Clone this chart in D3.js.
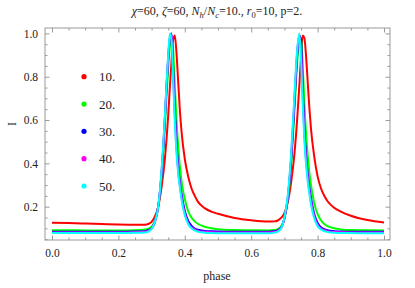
<!DOCTYPE html>
<html>
<head>
<meta charset="utf-8">
<script src="https://cdn.jsdelivr.net/npm/d3@7"></script>
<style>
  body { margin: 0; background: #fff; }
  svg text { font-family: "Liberation Serif", "DejaVu Serif", serif; fill: #222; }
</style>
</head>
<body>
<svg id="chart" width="415" height="288"></svg>
<script>
// phase grid shared by all series
var phase = [0, 0.05, 0.1, 0.15, 0.2, 0.25, 0.28, 0.29, 0.30, 0.31, 0.32, 0.33, 0.34, 0.345, 0.35, 0.355, 0.36, 0.365, 0.37, 0.375, 0.38, 0.385, 0.39, 0.40, 0.41, 0.42, 0.43, 0.44, 0.46, 0.48, 0.50, 0.55, 0.60, 0.65, 0.67, 0.68, 0.69, 0.70, 0.71, 0.72, 0.73, 0.735, 0.74, 0.745, 0.75, 0.755, 0.76, 0.765, 0.77, 0.775, 0.78, 0.79, 0.80, 0.81, 0.82, 0.83, 0.85, 0.87, 0.90, 0.95, 1.0];

var i10 = [0.126, 0.124, 0.122, 0.12, 0.118, 0.117, 0.117, 0.12, 0.13, 0.155, 0.20, 0.29, 0.42, 0.51, 0.62, 0.75, 0.87, 0.97, 0.99, 0.91, 0.78, 0.65, 0.55, 0.42, 0.34, 0.285, 0.25, 0.222, 0.193, 0.177, 0.167, 0.148, 0.137, 0.131, 0.132, 0.136, 0.148, 0.17, 0.22, 0.31, 0.44, 0.53, 0.64, 0.76, 0.89, 0.99, 0.98, 0.90, 0.78, 0.66, 0.56, 0.43, 0.34, 0.285, 0.25, 0.225, 0.195, 0.177, 0.158, 0.138, 0.127];

var i20 = [0.091, 0.091, 0.09, 0.09, 0.09, 0.091, 0.094, 0.098, 0.108, 0.135, 0.20, 0.34, 0.57, 0.71, 0.84, 0.94, 0.98, 0.92, 0.76, 0.60, 0.48, 0.39, 0.32, 0.235, 0.18, 0.15, 0.132, 0.12, 0.107, 0.100, 0.096, 0.092, 0.091, 0.09, 0.092, 0.096, 0.108, 0.145, 0.23, 0.39, 0.64, 0.78, 0.90, 0.97, 0.98, 0.86, 0.68, 0.54, 0.44, 0.36, 0.30, 0.215, 0.165, 0.137, 0.12, 0.11, 0.10, 0.095, 0.092, 0.091, 0.09];

var i30 = [0.084, 0.084, 0.084, 0.084, 0.084, 0.085, 0.087, 0.091, 0.10, 0.13, 0.20, 0.35, 0.60, 0.75, 0.88, 0.97, 1.0, 0.84, 0.65, 0.50, 0.39, 0.315, 0.26, 0.18, 0.135, 0.112, 0.099, 0.093, 0.088, 0.086, 0.085, 0.084, 0.084, 0.084, 0.086, 0.091, 0.103, 0.145, 0.235, 0.41, 0.67, 0.81, 0.93, 0.99, 0.97, 0.76, 0.57, 0.44, 0.355, 0.29, 0.24, 0.165, 0.125, 0.105, 0.096, 0.091, 0.087, 0.085, 0.084, 0.084, 0.084];

var i40 = [0.081, 0.081, 0.081, 0.081, 0.081, 0.082, 0.084, 0.088, 0.099, 0.13, 0.20, 0.36, 0.61, 0.76, 0.89, 0.98, 1.0, 0.81, 0.62, 0.47, 0.37, 0.30, 0.245, 0.17, 0.125, 0.105, 0.094, 0.088, 0.084, 0.082, 0.081, 0.081, 0.081, 0.081, 0.083, 0.088, 0.10, 0.145, 0.24, 0.42, 0.69, 0.83, 0.94, 0.99, 0.93, 0.72, 0.54, 0.42, 0.34, 0.275, 0.225, 0.155, 0.117, 0.10, 0.091, 0.087, 0.083, 0.082, 0.081, 0.081, 0.081];

var i50 = [0.078, 0.078, 0.078, 0.078, 0.078, 0.079, 0.081, 0.085, 0.097, 0.13, 0.20, 0.37, 0.62, 0.77, 0.90, 1.0, 0.97, 0.78, 0.59, 0.45, 0.355, 0.29, 0.235, 0.16, 0.12, 0.10, 0.09, 0.084, 0.080, 0.078, 0.077, 0.077, 0.077, 0.077, 0.08, 0.085, 0.10, 0.15, 0.25, 0.44, 0.71, 0.85, 0.95, 1.0, 0.88, 0.68, 0.51, 0.40, 0.32, 0.26, 0.21, 0.145, 0.11, 0.095, 0.087, 0.083, 0.079, 0.078, 0.078, 0.077, 0.077];

var seriesNames = ["10.", "20.", "30.", "40.", "50."];
var seriesValues = [i10, i20, i30, i40, i50];
var colors = ["#ff0000", "#00ff00", "#0000ff", "#ff00ff", "#00ffff"];

var xTicks = [0, 0.2, 0.4, 0.6, 0.8, 1.0];
var yTicks = [0.2, 0.4, 0.6, 0.8, 1.0];

var svg = d3.select("#chart");
var frameL = 45, frameR = 390, frameT = 28, frameB = 240;

var x = d3.scaleLinear().domain([-0.021, 1.018]).range([frameL, frameR]);
var y = d3.scaleLinear().domain([0.046, 1.025]).range([frameB, frameT]);

var frameColor = "#999";

// minor ticks
var xMinor = d3.range(0, 1.0001, 0.05).filter(function(v) { return Math.round(v * 100) % 20 != 0; });
var yMinor = d3.range(0.05, 1.0001, 0.05).filter(function(v) { return Math.round(v * 100) % 20 != 0; });

function styleAxis(g) {
    g.select(".domain").remove();
    g.selectAll(".tick line").attr("stroke", frameColor);
    g.selectAll(".tick text").attr("fill", "#222").style("font-size", "11.5px")
        .style("font-family", "'Liberation Serif', serif");
}

// bottom
svg.append("g").attr("transform", "translate(0," + frameB + ")")
    .call(d3.axisBottom(x).tickValues(xTicks).tickSize(-4.5).tickPadding(9).tickFormat(d3.format(".1f")))
    .call(styleAxis);
svg.append("g").attr("transform", "translate(0," + frameB + ")")
    .call(d3.axisBottom(x).tickValues(xMinor).tickSize(-2.5).tickFormat(""))
    .call(styleAxis);
// top
svg.append("g").attr("transform", "translate(0," + frameT + ")")
    .call(d3.axisTop(x).tickValues(xTicks).tickSize(-4.5).tickFormat(""))
    .call(styleAxis);
svg.append("g").attr("transform", "translate(0," + frameT + ")")
    .call(d3.axisTop(x).tickValues(xMinor).tickSize(-2.5).tickFormat(""))
    .call(styleAxis);
// left
svg.append("g").attr("transform", "translate(" + frameL + ",0)")
    .call(d3.axisLeft(y).tickValues(yTicks).tickSize(-4.5).tickPadding(7).tickFormat(d3.format(".1f")))
    .call(styleAxis);
svg.append("g").attr("transform", "translate(" + frameL + ",0)")
    .call(d3.axisLeft(y).tickValues(yMinor).tickSize(-2.5).tickFormat(""))
    .call(styleAxis);
// right
svg.append("g").attr("transform", "translate(" + frameR + ",0)")
    .call(d3.axisRight(y).tickValues(yTicks).tickSize(-4.5).tickFormat(""))
    .call(styleAxis);
svg.append("g").attr("transform", "translate(" + frameR + ",0)")
    .call(d3.axisRight(y).tickValues(yMinor).tickSize(-2.5).tickFormat(""))
    .call(styleAxis);

svg.append("rect")
    .attr("x", frameL).attr("y", frameT)
    .attr("width", frameR - frameL).attr("height", frameB - frameT)
    .attr("fill", "none").attr("stroke", frameColor).attr("stroke-width", 1);

// curves
var line = d3.line()
    .x(function(d) { return x(d[0]); })
    .y(function(d) { return y(d[1]); })
    .curve(d3.curveMonotoneX);

seriesValues.forEach(function(vals, k) {
    var pts = phase.map(function(p, i) { return [p, vals[i]]; });
    svg.append("path")
        .attr("d", line(pts))
        .attr("fill", "none")
        .attr("stroke", colors[k])
        .attr("stroke-width", 2)
        .attr("stroke-linejoin", "round");
});

// legend
var legendY = d3.scaleLinear().domain([0, 4]).range([76.7, 186]);
seriesNames.forEach(function(name, k) {
    svg.append("circle")
        .attr("cx", 84).attr("cy", legendY(k)).attr("r", 2.6)
        .attr("fill", colors[k]);
    svg.append("text")
        .attr("x", 99).attr("y", legendY(k) + 4.5)
        .style("font-size", "13px")
        .text(name);
});

// title
var title = svg.append("text")
    .attr("x", 217).attr("y", 15)
    .attr("text-anchor", "middle")
    .style("font-size", "12px");
title.append("tspan").style("font-style", "italic").text("\u03c7");
title.append("tspan").text("=60, ");
title.append("tspan").style("font-style", "italic").text("\u03b6");
title.append("tspan").text("=60, ");
title.append("tspan").style("font-style", "italic").text("N");
title.append("tspan").style("font-style", "italic").style("font-size", "8.5px").attr("dy", 2.5).text("h");
title.append("tspan").attr("dy", -2.5).text("/");
title.append("tspan").style("font-style", "italic").text("N");
title.append("tspan").style("font-style", "italic").style("font-size", "8.5px").attr("dy", 2.5).text("c");
title.append("tspan").attr("dy", -2.5).text("=10., ");
title.append("tspan").style("font-style", "italic").text("r");
title.append("tspan").style("font-size", "8.5px").attr("dy", 2.5).text("0");
title.append("tspan").attr("dy", -2.5).text("=10, p=2.");

// axis labels
svg.append("text")
    .attr("x", 217).attr("y", 280)
    .attr("text-anchor", "middle")
    .style("font-size", "12px")
    .text("phase");
svg.append("text")
    .attr("transform", "translate(16,124) rotate(-90)")
    .attr("text-anchor", "middle")
    .style("font-size", "12px")
    .text("I");
</script>
</body>
</html>
